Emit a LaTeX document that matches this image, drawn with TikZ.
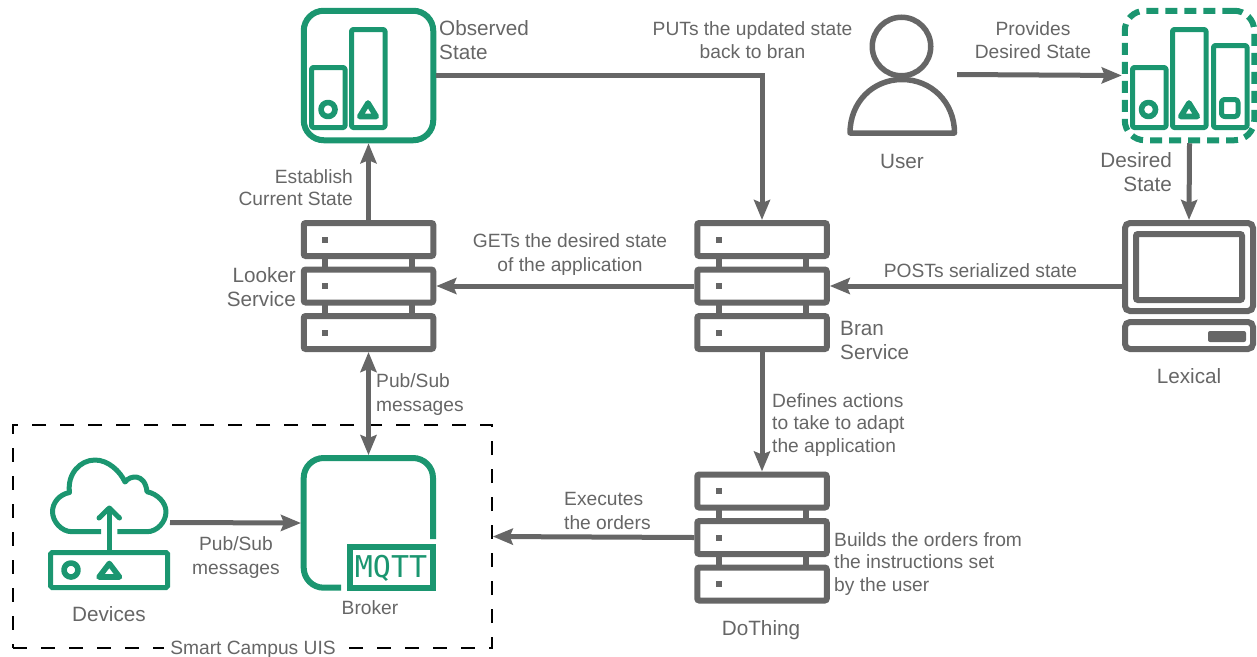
\documentclass[tikz,border=0pt]{standalone}
\usepackage{fontspec}
\setmainfont{Liberation Sans}
\newfontfamily\mqttfont{DejaVu Sans Mono}
\usetikzlibrary{arrows.meta}
\definecolor{tg}{HTML}{666666}
\definecolor{gr}{HTML}{1B9670}
\tikzset{
  srvbox/.style={draw=tg,line width=6pt,rounded corners=2pt,minimum width=129.5pt,minimum height=33pt,inner sep=0pt,fill=white},
  arr/.style={draw=tg,line width=5pt,-{Stealth[length=20pt,width=16pt,inset=3pt]}},
  arrboth/.style={draw=tg,line width=5pt,{Stealth[length=20pt,width=16pt,inset=3pt]}-{Stealth[length=20pt,width=16pt,inset=3pt]}},
  lab/.style={text=tg,font=\fontsize{19.2}{23}\selectfont,inner sep=0pt},
  big/.style={text=tg,font=\fontsize{20.7}{24}\selectfont,inner sep=0pt},
  gline/.style={draw=gr,line width=5pt,line join=round},
  gmark/.style={draw=gr,line width=5.6pt,line join=round},
  bar/.style={gline,rounded corners=1.5pt},
  grbox/.style={draw=gr,line width=6pt,rounded corners=20pt,minimum width=129.5pt,minimum height=129.5pt,inner sep=0pt},
}
\newcommand\serverstack[3]{%
  \draw[draw=tg,line width=6pt] (#2-43.5,#3) -- (#2-43.5,#3+93) (#2+43.5,#3) -- (#2+43.5,#3+93);
  \node[srvbox] (#1a) at (#2,#3) {};
  \node[srvbox] (#1b) at (#2,#3+46.5) {};
  \node[srvbox] (#1c) at (#2,#3+93) {};
  \fill[tg] (#2-46.5,#3-3) rectangle ++(6,6);
  \fill[tg] (#2-46.5,#3+43.5) rectangle ++(6,6);
  \fill[tg] (#2-46.5,#3+90) rectangle ++(6,6);
}
\newcommand\gcircle[2]{\draw[gmark] (#1,#2) circle[radius=7];}
\newcommand\gtri[2]{\draw[gmark] (#1-8.3,#2+7) -- (#1+8.3,#2+7) -- (#1,#2-6.5) -- cycle;}
\begin{document}
\begin{tikzpicture}[x=1pt,y=-1pt]
\useasboundingbox (0,0) rectangle (1257,656);
% smart campus frame
\node[draw=black,line width=1.5pt,dash pattern=on 14pt off 14pt,minimum width=479pt,minimum height=223pt,inner sep=0pt] (smart) at (252.5,536.5) {};
\node[lab,fill=white,inner xsep=6pt,inner ysep=1pt] (smartlab) at (253,649.5) {Smart Campus UIS};
% observed state
\node[grbox] (obs) at (368.5,75.5) {};
\draw[bar] (311.5,67.5) rectangle (345,127.5);
\draw[bar] (351.5,29.5) rectangle (385,127.5);
\gcircle{328}{109.5}
\gtri{368}{109.5}
% desired state
\node[grbox,dash pattern=on 12pt off 7pt] (desired) at (1189.5,75.5) {};
\draw[bar] (1132.5,67.5) rectangle (1166,127.5);
\draw[bar] (1172.5,29.5) rectangle (1206,127.5);
\draw[bar] (1213.5,45.5) rectangle (1247,127.5);
\gcircle{1148.5}{109.5}
\gtri{1189}{109.5}
\draw[gline,rounded corners=3pt] (1221.5,99.5) rectangle (1238,116.5);
% servers
\serverstack{looker}{368.5}{239.5}
\serverstack{bran}{762}{239.5}
\serverstack{doth}{762}{491}
% user
\node[circle,draw=tg,line width=5.5pt,minimum size=58.5pt,inner sep=0pt] (usr) at (901.5,46.5) {};
\draw[draw=tg,line width=5.5pt,line join=round] (850,133) .. controls (850,102) and (873,79.5) .. (902,79.5) .. controls (931,79.5) and (954.5,102) .. (954.5,133) -- cycle;
\coordinate (userout) at (957,74.5);
% lexical
\node[draw=tg,line width=6pt,rounded corners=5pt,minimum width=128pt,minimum height=88pt,inner sep=0pt] (monitor) at (1189,267) {};
\node[draw=tg,line width=6pt,rounded corners=2pt,minimum width=106pt,minimum height=66pt,inner sep=0pt] (screen) at (1189,267) {};
\node[draw=tg,line width=6pt,rounded corners=5pt,minimum width=128pt,minimum height=27pt,inner sep=0pt] (base) at (1189,335.5) {};
\fill[tg,rounded corners=2pt] (1208,331) rectangle (1246,342);
% devices
\draw[gline] (101,531.7) -- (72,531.7) .. controls (61,531.7) and (52.5,521) .. (52.5,511.7)
  .. controls (52.5,503) and (59,494.5) .. (69.5,492.5) .. controls (67,474) and (80,460) .. (95,460)
  .. controls (108,460) and (120,471) .. (125,482) .. controls (130,475) and (145,473) .. (147,491.7)
  .. controls (158,494) and (166,503) .. (166,511.7) .. controls (166,522) and (157,531.7) .. (147,531.7) -- (117.3,531.7);
\draw[gline] (109.3,552) -- (109.3,509);
\draw[gline,line cap=round] (99,518) -- (109.3,508) -- (119.5,518);
\node[draw=gr,line width=5pt,rounded corners=1.5pt,minimum width=117pt,minimum height=35pt,inner sep=0pt] (devbox) at (109.2,570) {};
\gcircle{71}{570}
\draw[gmark] (99,577) -- (119.5,577) -- (109.3,563.5) -- cycle;
\coordinate (devout) at (170,522.5);
% broker
\coordinate (brokerbl) at (341,587.7);
\node[minimum width=135pt,minimum height=135.7pt,inner sep=0pt,outer sep=0pt] (broker) at (368.5,523) {};
\draw[draw=gr,line width=6pt,rounded corners=20pt] (brokerbl) -- (303.7,587.7) -- (303.7,458) -- (433,458) -- (433,539);
\node[draw=gr,line width=6pt,minimum width=83.5pt,minimum height=40.5pt,inner sep=0pt] (mqtt) at (391.3,567.3) {};
\node[text=gr,font=\fontsize{30}{30}\mqttfont,inner sep=0pt] (mqttlab) at (391,568) {MQTT};
% connectors
\draw[arr] (obs.east) -| (brana.north);
\draw[arr] (lookera.north) -- (obs.south);
\draw[arr] (userout) -- (desired.west);
\draw[arr] (desired.south) -- (monitor.north);
\draw[arr] (monitor.west |- branb.east) -- (branb.east);
\draw[arr] (branb.west) -- (lookerb.east);
\draw[arr] (branc.south) -- (dotha.north);
\draw[arrboth] (lookerc.south) -- (broker.north);
\draw[arr] (devout) -- (broker.west);
\draw[arr] (dothb.west) -- (smart.east);
% labels
\node[big,align=left,anchor=west] (lobs) at (439,40) {Observed\\State};
\node[lab,align=center] (lput) at (752.5,40) {PUTs the updated state\\back to bran};
\node[lab,align=center] (lprov) at (1033,40) {Provides\\Desired State};
\node[big] (luser) at (902,161) {User};
\node[big,align=right,anchor=east] (ldes) at (1172,172) {Desired\\State};
\node[lab,align=right,anchor=east] (lest) at (353,187.5) {Establish\\[-1pt]Current State};
\node[big,align=right,anchor=east] (lloo) at (296,287) {Looker\\Service};
\node[lab,align=center] (lget) at (570,254.5) {GETs the desired state\\[1pt]of the application};
\node[lab] (lpost) at (980.5,271) {POSTs serialized state};
\node[big] (llex) at (1189,376) {Lexical};
\node[big,align=left,anchor=west] (lbran) at (840,340) {Bran\\Service};
\node[lab,align=left,anchor=west] (lpub1) at (376,394.5) {Pub/Sub\\[1.5pt]messages};
\node[lab,align=left,anchor=west] (ldef) at (772,425) {Defines actions\\[-0.5pt]to take to adapt\\[-0.5pt]the application};
\node[lab,align=left,anchor=west] (lexe) at (564,510.5) {Executes\\[1pt]the orders};
\node[lab,align=left,anchor=west] (lbui) at (834,564) {Builds the orders from\\[-0.5pt]the instructions set\\[-0.5pt]by the user};
\node[big] (ldot) at (761,630) {DoThing};
\node[lab,align=center] (lpub2) at (236,558) {Pub/Sub\\[1pt]messages};
\node[big] (ldev) at (109,614) {Devices};
\node[lab] (lbro) at (370,607.5) {Broker};
\end{tikzpicture}
\end{document}
